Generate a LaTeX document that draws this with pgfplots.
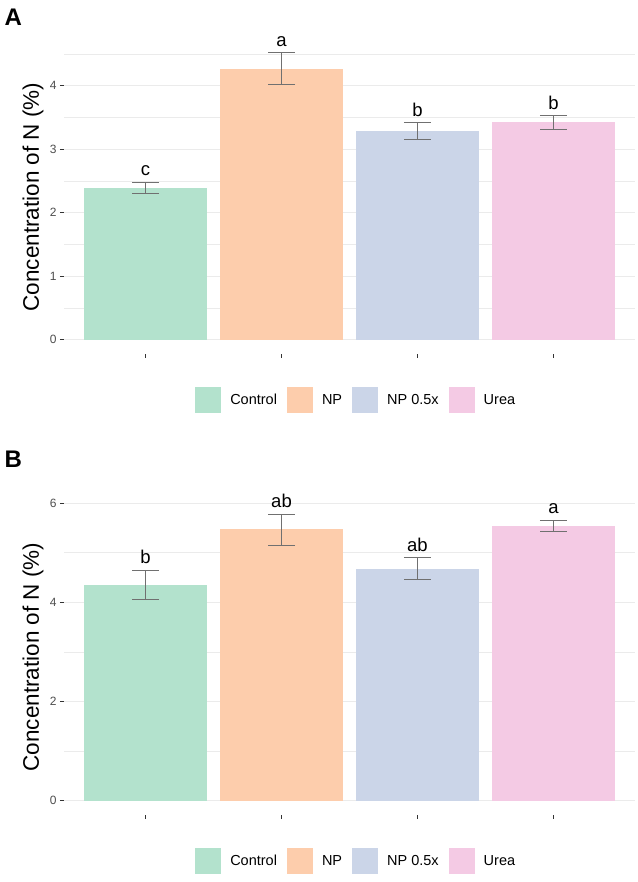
\documentclass[border=0pt]{standalone}
\usepackage{fontspec}
\setmainfont{Liberation Sans}
\usepackage{pgfplots}
\pgfplotsset{compat=1.18}

\definecolor{ctrl}{HTML}{B3E2CD}
\definecolor{np}{HTML}{FDCDAC}
\definecolor{nph}{HTML}{CBD5E8}
\definecolor{urea}{HTML}{F4CAE4}
\definecolor{gridc}{HTML}{EBEBEB}
\definecolor{tickc}{HTML}{4D4D4D}
\definecolor{errc}{HTML}{707070}

\pgfplotsset{
  panel/.style={
    scale only axis, width=571pt, height=314pt,
    xmin=0.4, xmax=4.6,
    axis line style={draw=none},
    xtick={1,2,3,4}, xticklabels={,,,},
    xtick pos=bottom, ytick pos=left,
    tick align=outside, major tick length=4pt, minor tick length=0pt,
    tick style={color=black!80, line width=0.6pt},
    ymajorgrids, yminorgrids,
    major grid style={color=gridc, line width=0.9pt},
    minor grid style={color=gridc, line width=0.5pt},
    /pgf/number format/assume math mode=true,
    yticklabel style={font=\fontsize{12}{14}\selectfont, text=tickc},
    ylabel={Concentration of N (\%)},
    ylabel style={font=\fontsize{22.5}{26}\selectfont, at={(axis description cs:-0.054,0.5)}, anchor=center},
    clip=false,
    legend columns=4,
    legend style={draw=none, fill=none, font=\fontsize{14.5}{17}\selectfont,
      nodes={inner sep=0pt},
      /tikz/every even column/.append style={column sep=10pt},
      /tikz/every odd column/.append style={column sep=9pt}},
  },
  bar/.style={ybar, bar width=0.9, bar shift=0pt, draw=none, fill=#1,
    legend image code/.code={\fill[#1] (0pt,-13pt) rectangle (26pt,13pt);},
    error bars/.cd, y dir=both, y explicit, error mark=|,
    error bar style={draw=errc, line width=0.7pt},
    error mark options={draw=errc, mark size=13.5pt, line width=0.7pt}},
  letters/.style={draw=none, mark=none, forget plot,
    nodes near coords, point meta=explicit symbolic,
    nodes near coords style={anchor=south, inner sep=0pt, yshift=6pt,
      font=\fontsize{18.5}{22}\selectfont}},
}

\begin{document}
\begin{tikzpicture}[x=1pt,y=1pt]
\useasboundingbox (0,0) rectangle (637,882);

% panel A
\begin{axis}[panel, at={(64pt,528pt)}, anchor=south west,
  ymin=-0.225, ymax=4.72,
  ytick={0,1,2,3,4}, minor ytick={0.5,1.5,2.5,3.5,4.5},
  legend style={at={(0.51,-0.1465)}, anchor=center}]
\addplot[bar=ctrl] coordinates {(1,2.39) += (0,0.09) -= (0,0.08)};
\addlegendentry{Control}
\addplot[bar=np] coordinates {(2,4.27) += (0,0.25) -= (0,0.25)};
\addlegendentry{NP}
\addplot[bar=nph] coordinates {(3,3.29) += (0,0.13) -= (0,0.14)};
\addlegendentry{NP 0.5x}
\addplot[bar=urea] coordinates {(4,3.43) += (0,0.10) -= (0,0.11)};
\addlegendentry{Urea}
\addplot[letters] table[meta=lab] {
x y lab
1 2.48 c
2 4.52 a
3 3.42 b
4 3.53 b
};
\end{axis}

% panel B
\begin{axis}[panel, at={(64pt,67pt)}, anchor=south west, height=316pt,
  ymin=-0.29, ymax=6.08,
  ytick={0,2,4,6}, minor ytick={1,3,5},
  legend style={at={(0.51,-0.1456)}, anchor=center}]
\addplot[bar=ctrl] coordinates {(1,4.34) += (0,0.31) -= (0,0.28)};
\addlegendentry{Control}
\addplot[bar=np] coordinates {(2,5.47) += (0,0.31) -= (0,0.33)};
\addlegendentry{NP}
\addplot[bar=nph] coordinates {(3,4.67) += (0,0.23) -= (0,0.21)};
\addlegendentry{NP 0.5x}
\addplot[bar=urea] coordinates {(4,5.53) += (0,0.12) -= (0,0.10)};
\addlegendentry{Urea}
\addplot[letters] table[meta=lab] {
x y lab
1 4.65 b
2 5.78 ab
3 4.90 ab
4 5.65 a
};
\end{axis}

\node[anchor=west, font=\fontsize{24}{28}\selectfont\bfseries] at (1,865) {A};
\node[anchor=west, font=\fontsize{24}{28}\selectfont\bfseries] at (1,423) {B};
\end{tikzpicture}
\end{document}
